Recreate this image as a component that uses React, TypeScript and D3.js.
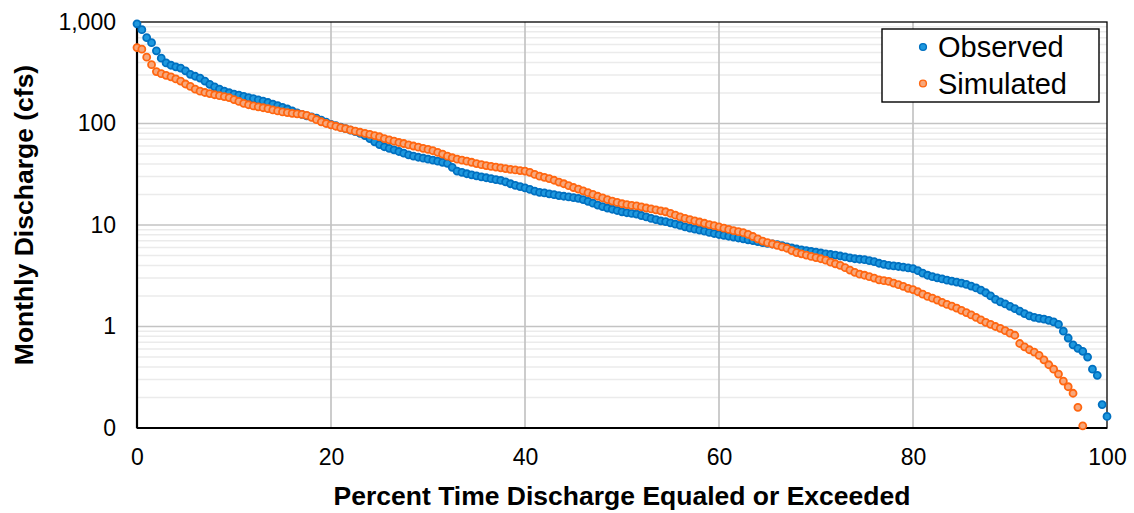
import React, { useEffect, useRef } from 'react';
import * as d3 from 'd3';

// monthly discharge (cfs), ranked high to low, read every 0.5 % of exceedance
const observed = [
  960, 840, 700, 625, 520, 440, 395, 375, 362, 352,
  330, 305, 292, 280, 262, 243, 230, 218, 208, 201,
  195, 190, 185, 180, 176, 171, 166, 161, 155, 150,
  144, 139, 133, 127, 123, 119, 116, 113, 108, 103,
  98, 95, 92, 89, 86, 83, 80, 76, 71, 66,
  62, 59, 57, 55, 53, 51, 49, 47.6, 46.5, 45.5,
  44.5, 43.5, 42.5, 41.5, 40.5, 37, 34, 33, 32, 31.2,
  30.5, 29.8, 29.2, 28.6, 28, 27.5, 26.6, 25.5, 24.6, 23.9,
  23.2, 22.4, 21.6, 21.0, 20.7, 20.3, 19.9, 19.5, 19.2, 18.9,
  18.6, 18.3, 17.8, 17.1, 16.4, 15.7, 15.2, 14.7, 14.3, 13.9,
  13.5, 13.2, 13.0, 12.8, 12.4, 12.0, 11.6, 11.3, 11.0, 10.8,
  10.5, 10.2, 9.9, 9.6, 9.3, 9.1, 8.9, 8.7, 8.45, 8.25,
  8.06, 7.9, 7.75, 7.6, 7.45, 7.3, 7.15, 7.0, 6.85, 6.7,
  6.6, 6.5, 6.4, 6.25, 6.1, 5.95, 5.8, 5.7, 5.6, 5.5,
  5.4, 5.3, 5.2, 5.12, 5.05, 4.95, 4.85, 4.75, 4.65, 4.6,
  4.55, 4.45, 4.35, 4.2, 4.1, 4.0, 3.95, 3.9, 3.85, 3.78,
  3.72, 3.55, 3.35, 3.2, 3.1, 3.02, 2.94, 2.86, 2.8, 2.74,
  2.68, 2.6, 2.5, 2.4, 2.28, 2.15, 2.0, 1.85, 1.75, 1.67,
  1.58, 1.5, 1.42, 1.34, 1.27, 1.23, 1.2, 1.18, 1.15, 1.11,
  1.05, 0.9, 0.77, 0.66, 0.61, 0.57, 0.5, 0.38, 0.33, 0.17,
  0.13
];

// zero flows at the low end cannot sit on the log axis
const simulated = [
  560, 540, 450, 380, 325, 310, 298, 288, 275, 262,
  245, 232, 218, 208, 202, 197, 192, 188, 184, 180,
  172, 165, 158, 153, 149, 146, 143, 140, 136, 133,
  130, 128, 126, 124.5, 123, 120, 115, 109, 104, 100,
  97, 94, 91, 89, 86.5, 84, 82, 80, 78, 76,
  74, 71, 69, 67, 65, 63.5, 61.5, 60, 58.5, 57,
  55.5, 54, 52, 50, 47.6, 46, 44.5, 43.5, 42.5, 41.5,
  40.3, 39.3, 38.5, 37.8, 37.2, 36.6, 36, 35.4, 34.9, 34.4,
  34, 33, 31.5, 30.3, 29.5, 28.7, 27.6, 26.5, 25.5, 24.4,
  23.4, 22.6, 21.7, 20.8, 20.0, 19.2, 18.5, 17.8, 17.2, 16.7,
  16.2, 15.9, 15.6, 15.4, 15.1, 14.7, 14.4, 14.1, 13.8, 13.5,
  13.0, 12.5, 12.0, 11.6, 11.3, 11.0, 10.7, 10.4, 10.1, 9.85,
  9.6, 9.3, 9.05, 8.8, 8.6, 8.4, 8.1, 7.7, 7.3, 6.95,
  6.7, 6.5, 6.3, 6.1, 5.9, 5.6, 5.35, 5.2, 5.05, 4.9,
  4.78, 4.65, 4.5, 4.3, 4.15, 4.0, 3.8, 3.6, 3.42, 3.28,
  3.2, 3.1, 3.0, 2.88, 2.83, 2.78, 2.68, 2.58, 2.48, 2.38,
  2.31, 2.2, 2.08, 1.98, 1.9, 1.82, 1.73, 1.65, 1.59, 1.52,
  1.44, 1.37, 1.3, 1.23, 1.16, 1.1, 1.05, 1.0, 0.96, 0.91,
  0.86, 0.82, 0.68, 0.63, 0.59, 0.56, 0.52, 0.47, 0.42, 0.38,
  0.34, 0.29, 0.255, 0.22, 0.16, 0.105, 0, 0, 0, 0,
  0
];

const xTicks = [0, 20, 40, 60, 80, 100];
const yTicks = [0.1, 1, 10, 100, 1000];
const seriesNames = ['Observed', 'Simulated'];

const FONT = '"Liberation Sans", Arial, sans-serif';
const colors = {
  Observed: { fill: '#1E98DE', stroke: '#0070C0' },
  Simulated: { fill: '#F7A77B', stroke: '#FF6610' }
};

const App = () => {
  const svgRef = useRef<SVGSVGElement>(null);

  useEffect(() => {
    const W = 1134;
    const H = 513;
    const margin = { top: 22, right: 27, bottom: 85, left: 137 };

    const svg = d3.select(svgRef.current);
    svg.selectAll('*').remove();
    svg.attr('width', W).attr('height', H);

    svg.append('rect').attr('width', W).attr('height', H).attr('fill', '#fff');

    const x = d3.scaleLinear().domain([0, 100]).range([margin.left, W - margin.right]);
    const y = d3.scaleLog().domain([0.1, 1000]).range([H - margin.bottom, margin.top]);

    const [x0, x1] = x.range();
    const [y0, y1] = y.range();

    // minor horizontal grid (2..9 per decade)
    const minor = y.ticks().filter(v => !yTicks.some(t => Math.abs(Math.log10(v) - Math.log10(t)) < 1e-6));
    svg.append('g')
      .selectAll('line')
      .data(minor)
      .enter()
      .append('line')
      .attr('x1', x0).attr('x2', x1)
      .attr('y1', d => y(d)).attr('y2', d => y(d))
      .attr('stroke', '#ebebeb')
      .attr('stroke-width', 1.5);

    // major grid
    svg.append('g')
      .selectAll('line')
      .data(yTicks.slice(1, -1))
      .enter()
      .append('line')
      .attr('x1', x0).attr('x2', x1)
      .attr('y1', d => y(d)).attr('y2', d => y(d))
      .attr('stroke', '#c3c3c3')
      .attr('stroke-width', 1.7);

    svg.append('g')
      .selectAll('line')
      .data(xTicks.slice(1, -1))
      .enter()
      .append('line')
      .attr('x1', d => x(d)).attr('x2', d => x(d))
      .attr('y1', y0).attr('y2', y1)
      .attr('stroke', '#c3c3c3')
      .attr('stroke-width', 1.7);

    // plot border + axis lines
    svg.append('rect')
      .attr('x', x0).attr('y', y1)
      .attr('width', x1 - x0).attr('height', y0 - y1)
      .attr('fill', 'none')
      .attr('stroke', '#000')
      .attr('stroke-width', 1.3);
    svg.append('line')
      .attr('x1', x0).attr('x2', x1).attr('y1', y0).attr('y2', y0)
      .attr('stroke', '#000').attr('stroke-width', 2.2);
    svg.append('line')
      .attr('x1', x0).attr('x2', x0).attr('y1', y0).attr('y2', y1)
      .attr('stroke', '#000').attr('stroke-width', 2.2);

    // axes labels
    const xAxis = svg.append('g')
      .attr('transform', `translate(0,${y0})`)
      .call(d3.axisBottom(x).tickValues(xTicks).tickSize(0).tickPadding(21));
    xAxis.select('.domain').remove();
    xAxis.selectAll('text')
      .attr('font-family', FONT)
      .attr('font-size', 23)
      .attr('fill', '#000');

    const yAxis = svg.append('g')
      .attr('transform', `translate(${x0},0)`)
      .call(d3.axisLeft(y).tickValues(yTicks).tickFormat(d3.format(',.0f') as any).tickSize(0).tickPadding(21));
    yAxis.select('.domain').remove();
    yAxis.selectAll('text')
      .attr('font-family', FONT)
      .attr('font-size', 23)
      .attr('fill', '#000');

    // series
    const toPoints = (vals: number[]) =>
      vals.map((v, i) => ({ p: (i / (vals.length - 1)) * 100, v })).filter(d => d.v > 0);

    [observed, simulated].forEach((vals, k) => {
      const c = colors[seriesNames[k]];
      svg.append('g')
        .selectAll('circle')
        .data(toPoints(vals))
        .enter()
        .append('circle')
        .attr('cx', d => x(d.p))
        .attr('cy', d => y(d.v))
        .attr('r', 3.5)
        .attr('fill', c.fill)
        .attr('stroke', c.stroke)
        .attr('stroke-width', 1.8);
    });

    // titles
    svg.append('text')
      .attr('x', (x0 + x1) / 2)
      .attr('y', 505)
      .attr('text-anchor', 'middle')
      .attr('font-family', FONT)
      .attr('font-size', 26.5)
      .attr('font-weight', 'bold')
      .text('Percent Time Discharge Equaled or Exceeded');

    svg.append('text')
      .attr('transform', 'translate(33,215) rotate(-90)')
      .attr('text-anchor', 'middle')
      .attr('font-family', FONT)
      .attr('font-size', 26.5)
      .attr('font-weight', 'bold')
      .text('Monthly Discharge (cfs)');

    // legend
    const legend = svg.append('g');
    legend.append('rect')
      .attr('x', 882).attr('y', 29)
      .attr('width', 217).attr('height', 73)
      .attr('fill', '#fff')
      .attr('stroke', '#000')
      .attr('stroke-width', 1.4);
    seriesNames.forEach((name, i) => {
      const cy = 47 + i * 36.5;
      legend.append('circle')
        .attr('cx', 923).attr('cy', cy)
        .attr('r', 3.4)
        .attr('fill', colors[name].fill)
        .attr('stroke', colors[name].stroke)
        .attr('stroke-width', 1.4);
      legend.append('text')
        .attr('x', 938).attr('y', cy + 10)
        .attr('font-family', FONT)
        .attr('font-size', 29)
        .attr('fill', '#000')
        .text(name);
    });
  }, []);

  return <svg ref={svgRef} style={{ position: 'absolute', left: 0, top: 0 }}></svg>;
};

export default App;
